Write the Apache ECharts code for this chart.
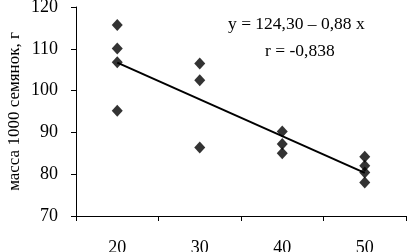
<!DOCTYPE html>
<html>
<head>
<meta charset="utf-8">
<script src="https://cdn.jsdelivr.net/npm/echarts@6/dist/echarts.min.js"></script>
<style>
  html, body { margin: 0; padding: 0; background: #fff; }
  #chart { width: 407px; height: 252px; }
</style>
</head>
<body>
<div id="chart"></div>
<script>
// categories on x
const categories = ['20', '30', '40', '50']
// observed points (category, mass)
const points = [
  ['20', 115.7], ['20', 110.1], ['20', 106.8], ['20', 95.2],
  ['30', 106.5], ['30', 102.5], ['30', 86.4],
  ['40', 90.2], ['40', 87.2], ['40', 85.0],
  ['50', 84.2], ['50', 82.0], ['50', 80.4], ['50', 78.0]
]
// regression line end points
const trend = [['20', 106.7], ['50', 80.3]]
const yTicks = { min: 70, max: 120, interval: 10 }
const eqText = 'y = 124,30 – 0,88 x'
const rText = 'r = -0,838'
const yTitle = 'масса 1000 семянок, г'

let myChart = echarts.init(document.getElementById('chart'))
const font = 'Liberation Serif'
let option = {
  animation: false,
  grid: { left: 76, right: 1, top: 7, bottom: 36, containLabel: false, outerBoundsMode: 'none' },
  xAxis: {
    type: 'category',
    data: categories,
    boundaryGap: true,
    axisLine: { lineStyle: { color: '#000', width: 1 } },
    axisTick: { show: true, length: 5, lineStyle: { color: '#000' } },
    axisLabel: { color: '#000', fontSize: 18, fontFamily: font, margin: 23 },
    splitLine: { show: false }
  },
  yAxis: {
    type: 'value',
    min: yTicks.min,
    max: yTicks.max,
    interval: yTicks.interval,
    axisLine: { show: true, lineStyle: { color: '#000', width: 1 } },
    axisTick: { show: true, length: 5, lineStyle: { color: '#000' } },
    axisLabel: { color: '#000', fontSize: 18, fontFamily: font, margin: 18 },
    splitLine: { show: false },
    name: yTitle,
    nameLocation: 'middle',
    nameRotate: 90,
    nameGap: 53,
    nameMoveOverlap: false,
    nameTextStyle: { color: '#000', fontSize: 17, fontFamily: font }
  },
  graphic: [
    {
      type: 'text', left: 228, top: 15,
      style: { text: eqText, fill: '#000', font: '17.5px "Liberation Serif"' }
    },
    {
      type: 'text', left: 265, top: 42,
      style: { text: rText, fill: '#000', font: '17.5px "Liberation Serif"' }
    }
  ],
  series: [
    {
      type: 'line',
      data: trend,
      symbol: 'none',
      lineStyle: { color: '#000', width: 2 },
      z: 2
    },
    {
      type: 'scatter',
      data: points,
      symbol: 'diamond',
      symbolSize: [11, 12],
      itemStyle: { color: '#000' },
      z: 3
    }
  ]
}
myChart.setOption(option)
</script>
</body>
</html>
